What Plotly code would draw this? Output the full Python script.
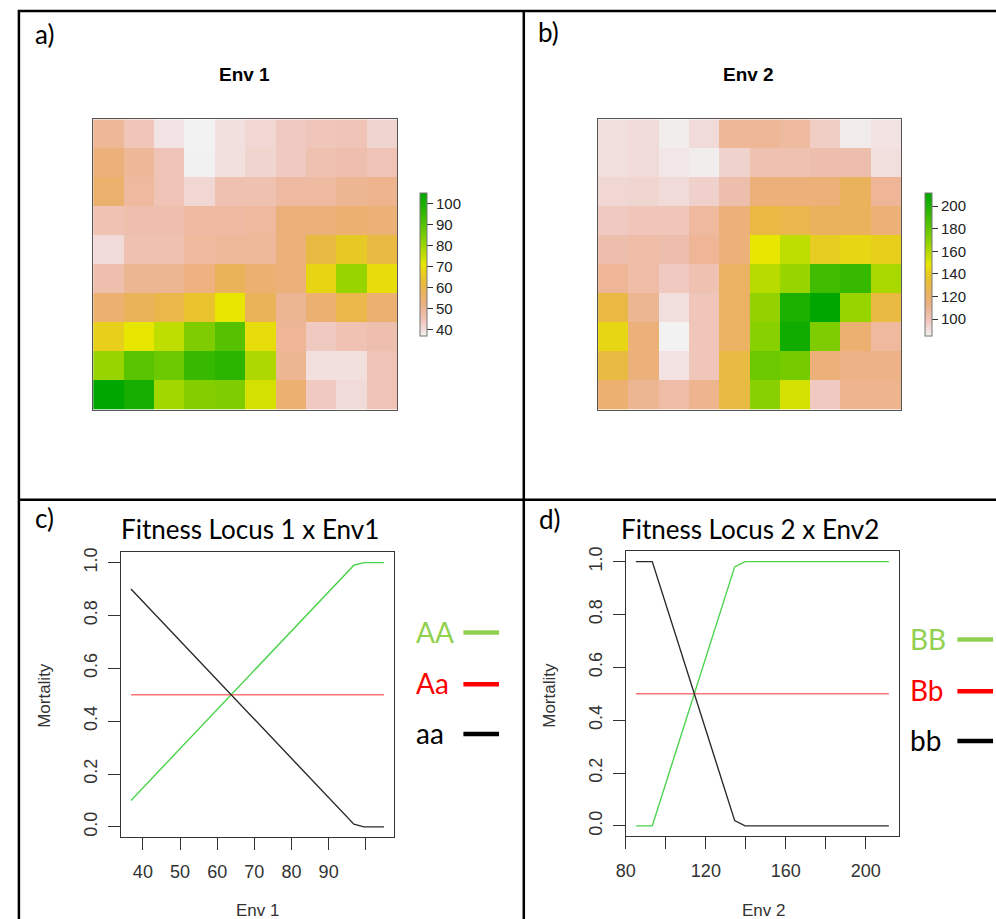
import colorsys
import plotly.graph_objects as go

W, H = 996, 919

# ---------------- data ----------------
env1_grid = [
    [49.1, 44.3, 38.8, 36.8, 39.5, 40.9, 43.6, 44.3, 45.0, 41.6],
    [53.1, 49.1, 45.0, 37.0, 39.5, 41.6, 43.6, 45.7, 46.3, 45.0],
    [55.2, 48.4, 45.0, 40.9, 45.7, 45.7, 47.7, 47.7, 49.7, 50.4],
    [45.3, 46.3, 46.3, 47.7, 47.7, 48.4, 53.1, 53.1, 54.5, 53.8],
    [40.2, 45.7, 45.7, 48.4, 48.7, 48.7, 53.1, 61.3, 65.4, 61.3],
    [46.3, 49.7, 49.7, 52.5, 57.9, 54.5, 53.1, 68.1, 80.4, 69.5],
    [54.5, 57.9, 60.0, 64.0, 70.9, 57.9, 49.7, 54.5, 60.0, 54.5],
    [66.8, 70.9, 75.6, 83.8, 89.9, 69.5, 49.4, 43.6, 45.3, 46.3],
    [80.4, 89.2, 86.5, 94.7, 96.7, 77.7, 49.7, 39.5, 39.5, 45.0],
    [104.9, 100.1, 79.0, 83.1, 83.8, 72.9, 54.5, 43.6, 40.2, 45.0],
]
env2_grid = [
    [90.1, 91.3, 86.3, 91.3, 107.8, 107.8, 105.9, 96.4, 86.9, 89.4],
    [90.1, 91.3, 88.2, 86.3, 94.5, 101.4, 101.4, 102.7, 102.7, 90.1],
    [92.6, 93.2, 91.3, 95.1, 102.7, 116.0, 116.0, 116.0, 123.0, 108.4],
    [97.7, 98.9, 98.9, 106.5, 116.0, 129.9, 128.0, 123.0, 123.0, 116.6],
    [102.7, 104.0, 102.7, 108.4, 116.0, 148.3, 157.1, 139.4, 143.2, 140.7],
    [108.4, 104.0, 97.7, 101.4, 121.7, 158.4, 166.0, 190.0, 192.5, 162.2],
    [129.9, 109.0, 90.1, 98.9, 121.7, 167.2, 201.4, 211.5, 166.0, 130.5],
    [143.2, 116.0, 85.0, 98.9, 121.7, 169.8, 205.2, 172.3, 117.9, 106.5],
    [130.5, 115.4, 89.4, 98.9, 130.5, 177.3, 174.8, 116.0, 112.8, 112.8],
    [117.9, 109.0, 104.0, 110.3, 130.5, 169.8, 152.0, 97.7, 110.3, 110.3],
]
grid_cols = list(range(1, 11))
grid_rows = list(range(1, 11))  # row 1 = top

env1_ticks = [40, 50, 60, 70, 80, 90, 100]
env2_ticks = [100, 120, 140, 160, 180, 200]

env1_x = [36.8, 96.8, 99.5, 104.9]
mort_AA = [0.10, 0.99, 1.0, 1.0]
mort_Aa = [0.5, 0.5, 0.5, 0.5]
mort_aa = [0.90, 0.01, 0.0, 0.0]

env2_x = [85.0, 93.2, 134.4, 139.6, 211.5]
mort_BB = [0.0, 0.0, 0.98, 1.0, 1.0]
mort_Bb = [0.5, 0.5, 0.5, 0.5, 0.5]
mort_bb = [1.0, 1.0, 0.02, 0.0, 0.0]

c_xticks = [40, 50, 60, 70, 80, 90, 100]
c_xlabels = ["40", "50", "60", "70", "80", "90", ""]
d_xticks = [80, 100, 120, 140, 160, 180, 200]
d_xlabels = ["80", "", "120", "", "160", "", "200"]
y_ticks = [0.0, 0.2, 0.4, 0.6, 0.8, 1.0]
y_labels = ["0.0", "0.2", "0.4", "0.6", "0.8", "1.0"]

# ---------------- helpers ----------------
def px(x):
    return x / W

def py(y):
    return 1 - y / H

def terrain_scale(n=41):
    # R terrain.colors, reversed (low = light, high = green)
    stops = []
    for i in range(n):
        t = i / (n - 1)  # 0 = green end (R order)
        if t <= 0.5:
            u = t / 0.5
            h = (120 - 60 * u) / 360
            s = 1.0
            v = 0.65 + 0.25 * u
        else:
            u = (t - 0.5) / 0.5
            h = (60 - 60 * u) / 360
            s = 1 - u
            v = 0.9 + 0.05 * u
        r, g, b = colorsys.hsv_to_rgb(h, s, v)
        stops.append((1 - t, "rgb(%d,%d,%d)" % (round(r * 255), round(g * 255), round(b * 255))))
    stops.sort(key=lambda s: s[0])
    return [[p, c] for p, c in stops]

CS = terrain_scale()
NARROW = "Liberation Sans Narrow, Arial Narrow, Liberation Sans, Arial, sans-serif"
SANS = "Liberation Sans, Arial, Helvetica, sans-serif"
CAL = "Lato, Carlito, Calibri, sans-serif"

fig = go.Figure()

# ---------------- heatmaps ----------------
def add_heat(z, xa, ya, cbx, ticks):
    fig.add_trace(go.Heatmap(
        z=z, x=grid_cols, y=grid_rows, xaxis=xa, yaxis=ya,
        colorscale=CS, showscale=True, hoverinfo="skip",
        colorbar=dict(
            x=px(cbx), xanchor="left", xref="paper",
            y=py(261), yanchor="middle", yref="paper",
            len=144 / H, lenmode="fraction", thickness=7, thicknessmode="pixels",
            xpad=0, ypad=0, outlinecolor="#777", outlinewidth=1,
            ticks="outside", ticklen=6, tickwidth=1, tickcolor="#333",
            tickvals=ticks, tickfont=dict(family=NARROW, size=15, color="#222"),
        ),
    ))

add_heat(env1_grid, "x", "y", 414, env1_ticks)
add_heat(env2_grid, "x2", "y2", 924, env2_ticks)

# ---------------- line panels ----------------
def add_lines(xs, ys_list, colors, xa, ya):
    for ys, c in zip(ys_list, colors):
        fig.add_trace(go.Scatter(x=xs, y=ys, mode="lines", xaxis=xa, yaxis=ya,
                                 line=dict(color=c, width=1.4), showlegend=False,
                                 hoverinfo="skip"))

LINE_COLS = ["#4cd34c", "#ff7575", "#2a2a2a"]
add_lines(env1_x, [mort_AA, mort_Aa, mort_aa], LINE_COLS, "x3", "y3")
add_lines(env2_x, [mort_BB, mort_Bb, mort_bb], LINE_COLS, "x4", "y4")

def r_range(vals):
    lo, hi = min(vals), max(vals)
    pad = 0.04 * (hi - lo)
    return [lo - pad, hi + pad]

heat_axis = dict(showgrid=False, zeroline=False, showticklabels=False, ticks="",
                 showline=True, mirror=True, linecolor="#555", linewidth=1,
                 range=[0.5, 10.5], fixedrange=True)

line_x = dict(showgrid=False, zeroline=False, showline=True, mirror=True,
              linecolor="#333", linewidth=1, ticks="outside", ticklen=12,
              tickwidth=1, tickcolor="#333",
              tickfont=dict(family=SANS, size=18, color="#333"),
              ticklabelstandoff=6)
line_y = dict(line_x)
line_y.update(tickangle=-90, tickvals=y_ticks, ticktext=y_labels,
              range=r_range([0, 1]), ticklabelstandoff=4)

fig.update_layout(
    width=W, height=H, margin=dict(l=0, r=0, t=0, b=0),
    paper_bgcolor="white", plot_bgcolor="white", showlegend=False,
    xaxis=dict(heat_axis, domain=[px(84), px(391)], anchor="y"),
    yaxis=dict(heat_axis, domain=[py(407), py(115)], anchor="x", autorange=False,
               range=[10.5, 0.5]),
    xaxis2=dict(heat_axis, domain=[px(594), px(900)], anchor="y2"),
    yaxis2=dict(heat_axis, domain=[py(407), py(115)], anchor="x2", range=[10.5, 0.5]),
    xaxis3=dict(line_x, domain=[px(112), px(388)], anchor="y3",
                range=r_range(env1_x), tickvals=c_xticks, ticktext=c_xlabels),
    yaxis3=dict(line_y, domain=[py(837), py(550)], anchor="x3"),
    xaxis4=dict(line_x, domain=[px(622), px(898)], anchor="y4",
                range=r_range(env2_x), tickvals=d_xticks, ticktext=d_xlabels),
    yaxis4=dict(line_y, domain=[py(836), py(549)], anchor="x4"),
)

# ---------------- table borders ----------------
BW = 2.5
borders = [
    (8, 6, 996, 6), (9, 5, 9, 919), (519, 5, 519, 919), (9, 497.5, 996, 497.5),
]
for x0, y0, x1, y1 in borders:
    fig.add_shape(type="line", xref="paper", yref="paper",
                  x0=px(x0), y0=py(y0), x1=px(x1), y1=py(y1),
                  line=dict(color="black", width=BW))

# ---------------- text ----------------
def ann(text, x, y, size, family, color="black", xanchor="center", angle=0, bold=False):
    if bold:
        text = "<b>" + text + "</b>"
    fig.add_annotation(text=text, x=px(x), y=py(y), xref="paper", yref="paper",
                       showarrow=False, xanchor=xanchor, yanchor="middle",
                       textangle=angle, font=dict(family=family, size=size, color=color))

ann("a)", 23, 29, 26, CAL, xanchor="left")
ann("b)", 531, 27, 26, CAL, xanchor="left")
ann("c)", 23, 516, 26, CAL, xanchor="left")
ann("d)", 532, 517, 26, CAL, xanchor="left")

ann("Env 1", 237, 70, 19, NARROW, bold=True)
ann("Env 2", 746, 70, 19, NARROW, bold=True)

ann("Fitness Locus 1 x Env1", 242, 527, 26, CAL)
ann("Fitness Locus 2 x Env2", 747, 527, 26, CAL)

ann("Mortality", 35, 694, 17, SANS, color="#333", angle=-90)
ann("Mortality", 545, 694, 17, SANS, color="#333", angle=-90)
ann("Env 1", 250, 910, 17, SANS, color="#333")
ann("Env 2", 761, 910, 17, SANS, color="#333")

# ---------------- legend (drawn as in the figure) ----------------
LEG_COLS = ["#92d050", "#ff0000", "#000000"]
for names, tx, lx0, lx1, ys in [
    (["AA", "Aa", "aa"], 408, 458, 494, [630, 682, 732]),
    (["BB", "Bb", "bb"], 907, 957, 993, [637, 689, 739]),
]:
    for nm, col, yy in zip(names, LEG_COLS, ys):
        ann(nm, tx, yy, 28, CAL, color=col, xanchor="left")
        fig.add_shape(type="line", xref="paper", yref="paper",
                      x0=px(lx0), x1=px(lx1), y0=py(yy + 1), y1=py(yy + 1),
                      line=dict(color=col, width=4.5))

fig.write_html("out.html")
